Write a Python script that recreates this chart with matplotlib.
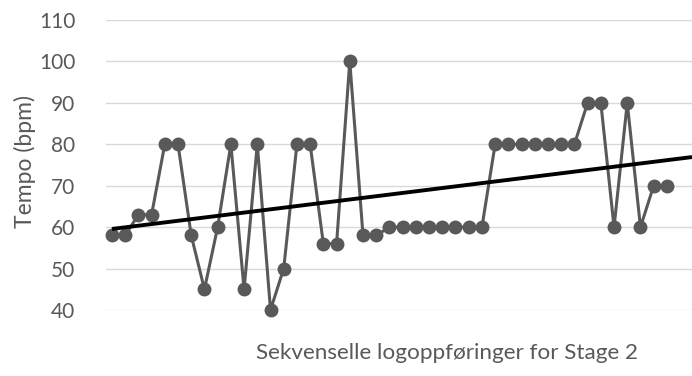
import numpy as np
import matplotlib
matplotlib.use("Agg")
import matplotlib.pyplot as plt

# DATA

tempo = [58, 58, 63, 63, 80, 80, 58, 45, 60, 80, 45, 80, 40, 50, 80, 80,
         56, 56, 100, 58, 58,
         60, 60, 60, 60, 60, 60, 60, 60,
         80, 80, 80, 80, 80, 80, 80,
         90, 90, 60, 90, 60, 70, 70]
y_ticks = [40, 50, 60, 70, 80, 90, 100, 110]
y_label = "Tempo (bpm)"
x_label = "Sekvenselle logoppføringer for Stage 2"

plt.rcParams['font.family'] = ['Lato', 'DejaVu Sans']

x = np.arange(len(tempo))

fig = plt.figure(figsize=(6.92, 3.76), dpi=100)
ax = fig.add_axes([106/692, 66/376, 586/692, 290/376])

ax.plot(x, tempo, color="#595959", linewidth=2.2, marker='o',
        markersize=9, clip_on=False, zorder=3)

# linear trend
k, m = np.polyfit(x, tempo, 1)
x_end = 43.9
xt = np.array([0, x_end])
ax.plot(xt, k*xt + m, color="black", linewidth=2.8, zorder=4,
        solid_capstyle='butt')

ax.set_xlim(-0.45, x_end)
ax.set_ylim(40, 110)
ax.set_yticks(y_ticks)
ax.set_xticks([])
ax.grid(axis='y', color="#d9d9d9", linewidth=1.0)
ax.set_axisbelow(True)
for s in ax.spines.values():
    s.set_visible(False)
ax.tick_params(axis='y', length=0, pad=22, labelsize=15, labelcolor="#595959")

fig.text(25/692, 1 - 161/376, y_label, rotation=90, ha='center', va='center',
         fontsize=16.5, color="#595959")
fig.text(447/692, 1 - 353/376, x_label, ha='center', va='center',
         fontsize=16.2, color="#595959")

fig.savefig("out.png", dpi=100)
